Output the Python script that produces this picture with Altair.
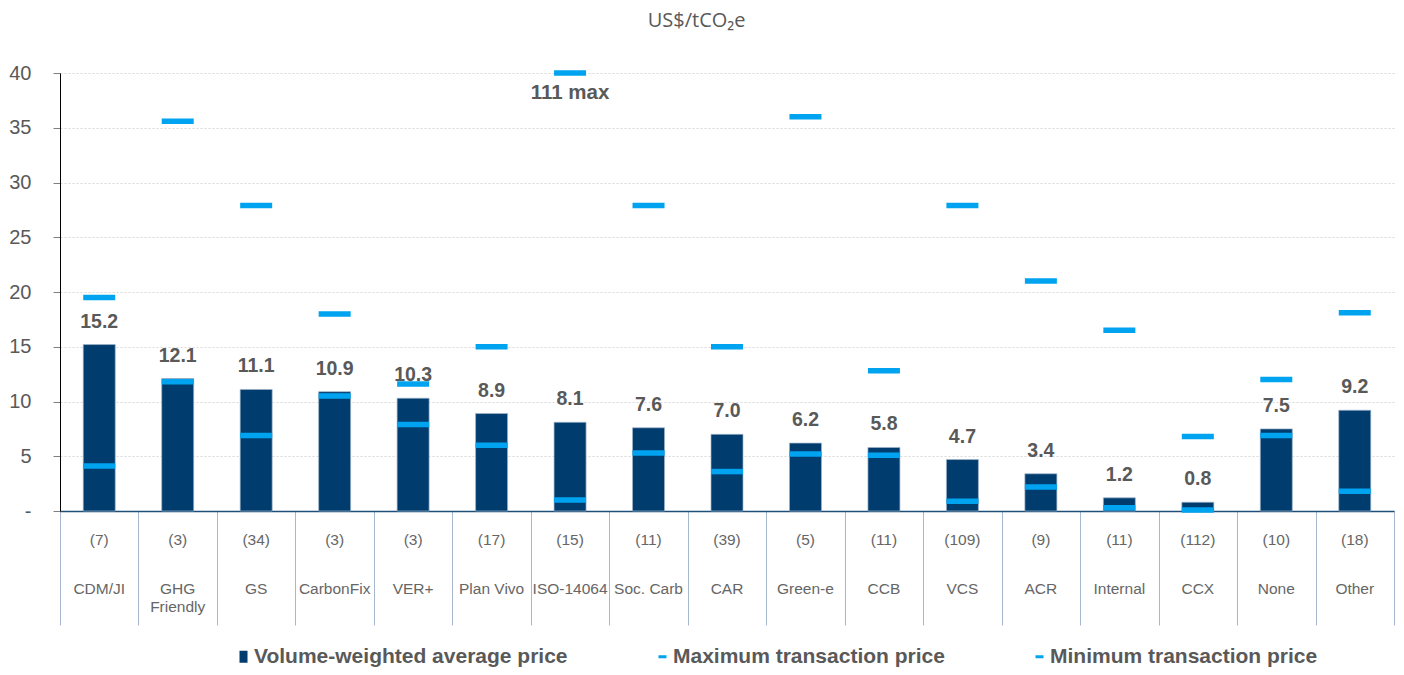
import altair as alt
import pandas as pd

# ---- data ----
names = ["CDM/JI", "GHG Friendly", "GS", "CarbonFix", "VER+", "Plan Vivo", "ISO-14064",
         "Soc. Carb", "CAR", "Green-e", "CCB", "VCS", "ACR", "Internal", "CCX", "None", "Other"]
counts = [7, 3, 34, 3, 3, 17, 15, 11, 39, 5, 11, 109, 9, 11, 112, 10, 18]
avg_price = [15.2, 12.1, 11.1, 10.9, 10.3, 8.9, 8.1, 7.6, 7.0, 6.2, 5.8, 4.7, 3.4, 1.2, 0.8, 7.5, 9.2]
max_price = [19.5, 35.6, 27.9, 18.0, 11.6, 15.0, 111, 27.9, 15.0, 36.0, 12.8, 27.9, 21.0, 16.5, 6.8, 12.0, 18.1]
min_price = [4.1, 11.8, 6.9, 10.5, 7.9, 6.0, 1.0, 5.3, 3.6, 5.2, 5.1, 0.9, 2.2, 0.3, 0.1, 6.9, 1.8]
series = ["Volume-weighted average price", "Maximum transaction price", "Minimum transaction price"]
y_ticks = [0, 5, 10, 15, 20, 25, 30, 35, 40]
y_top = 40

NAVY = "#003d6e"
CYAN = "#00a3ef"
GRAY = "#595959"
FONT = "Liberation Sans"

df = pd.DataFrame({
    "name": names,
    "label": [n.replace("GHG ", "GHG\n") for n in names],
    "count": [f"({c})" for c in counts],
    "avg": avg_price,
    "max": max_price,
    "min": min_price,
})

x_enc = alt.X(
    "name:N", sort=names, title=None,
    scale=alt.Scale(domain=names, paddingInner=0, paddingOuter=0),
    axis=alt.Axis(labels=False, domainColor="#1f4e79", domainWidth=1.5,
                  tickBand="extent", tickSize=114, tickColor="#a5b8cc", tickWidth=1),
)
y_scale = alt.Scale(domain=[0, y_top])

base = alt.Chart(df).encode(x=x_enc)

bars = base.mark_bar(size=32, color=NAVY, stroke="#9fb4ca", strokeWidth=0.7).encode(
    y=alt.Y("avg:Q", scale=y_scale, title=None,
            axis=alt.Axis(values=y_ticks, labelExpr="datum.value == 0 ? '-' : datum.label",
                          labelFont=FONT, labelFontSize=20, labelColor=GRAY, labelPadding=22,
                          tickSize=7, tickColor="#7f7f7f", domainColor="#000000",
                          gridColor="#d9d9d9", gridDash=[2, 2]))
)

max_ticks = base.transform_calculate(
    max_shown=f"min(datum.max, {y_top})"
).mark_tick(size=32, thickness=5.5, color=CYAN, opacity=1).encode(
    y=alt.Y("max_shown:Q", scale=y_scale)
)

min_ticks = base.mark_tick(size=32, thickness=5.5, color=CYAN, opacity=1).encode(
    y=alt.Y("min:Q", scale=y_scale)
)

avg_labels = base.mark_text(dy=-23, font=FONT, fontSize=19.5, fontWeight="bold",
                            color=GRAY, baseline="middle").encode(
    y=alt.Y("avg:Q", scale=y_scale),
    text=alt.Text("avg:Q", format=".1f"),
)

max_note = base.transform_filter(f"datum.max > {y_top}").transform_calculate(
    max_shown=f"min(datum.max, {y_top})",
    note="format(datum.max, 'd') + ' max'",
).mark_text(dy=20, font=FONT, fontSize=20.5, fontWeight="bold", color=GRAY,
            baseline="middle").encode(
    y=alt.Y("max_shown:Q", scale=y_scale),
    text="note:N",
)

count_labels = base.mark_text(font=FONT, fontSize=15.5, color="#666666", baseline="middle").encode(
    y=alt.value(467), text="count:N"
)

name_labels = base.mark_text(font=FONT, fontSize=15.5, color="#666666", baseline="top",
                             lineBreak="\n", lineHeight=18).encode(
    y=alt.value(509), text="label:N"
)

sq_path = "M-0.667,-1H0.667V1H-0.667Z"
dash_path = "M-0.667,-0.25H0.667V0.25H-0.667Z"
leg = alt.Legend(title=None, orient="none", legendX=173, legendY=573, direction="horizontal",
                 columns=3, columnPadding=84, labelFont=FONT, labelFontSize=21,
                 labelFontWeight="bold", labelColor=GRAY, symbolSize=144, symbolStrokeWidth=0,
                 labelOffset=0, labelLimit=0, padding=0, symbolOpacity=1)

legend_layer = alt.Chart(pd.DataFrame({"series": series})).mark_point(
    filled=True, opacity=0
).encode(
    x=alt.value(0), y=alt.value(0),
    color=alt.Color("series:N", sort=series,
                    scale=alt.Scale(domain=series, range=[NAVY, CYAN, CYAN]), legend=leg),
    shape=alt.Shape("series:N", sort=series,
                    scale=alt.Scale(domain=series, range=[sq_path, dash_path, dash_path]), legend=leg),
)

chart = alt.layer(
    bars, max_ticks, min_ticks, avg_labels, max_note, count_labels, name_labels, legend_layer
).properties(
    width=1334, height=438,
    autosize=alt.AutoSizeParams(type="none"),
    padding={"left": 52, "top": 65, "right": 2, "bottom": 156},
    title=alt.TitleParams(text="US$/tCO₂e", font="Open Sans", fontSize=20, fontWeight="normal",
                          color=GRAY, anchor="middle", frame="bounds", offset=32, dx=-5),
).configure_view(stroke=None)

chart.save("out.html", embed_options={"renderer": "svg", "actions": False})
